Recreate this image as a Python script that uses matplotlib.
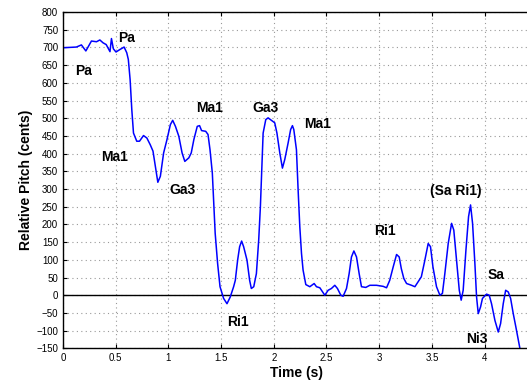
import matplotlib
matplotlib.use("Agg")
import matplotlib.pyplot as plt

# pitch contour (time in s, pitch in cents)
time_s = [0.0, 0.127, 0.175, 0.217, 0.27, 0.318, 0.35, 0.38, 0.41, 0.446, 0.46, 0.478,
          0.503, 0.54, 0.58, 0.605, 0.62, 0.637, 0.653, 0.669, 0.70, 0.726, 0.764, 0.796,
          0.828, 0.854, 0.876, 0.90, 0.924, 0.955, 0.987, 1.019, 1.041, 1.067, 1.099, 1.13,
          1.156, 1.194, 1.217, 1.242, 1.274, 1.296, 1.315, 1.354, 1.376, 1.395, 1.417,
          1.444, 1.467, 1.49, 1.524, 1.556, 1.587, 1.619, 1.635, 1.657, 1.676, 1.695,
          1.714, 1.746, 1.771, 1.787, 1.81, 1.835, 1.857, 1.873, 1.899, 1.924, 1.946,
          1.978, 2.009, 2.03, 2.057, 2.082, 2.104, 2.136, 2.16, 2.177, 2.19, 2.215, 2.231,
          2.247, 2.263, 2.278, 2.304, 2.342, 2.383, 2.405, 2.437, 2.453, 2.484, 2.516,
          2.547, 2.579, 2.604, 2.636, 2.658, 2.69, 2.715, 2.737, 2.76, 2.785, 2.81, 2.832,
          2.873, 2.911, 2.975, 3.038, 3.07, 3.1, 3.133, 3.165, 3.19, 3.21, 3.234, 3.26,
          3.307, 3.339, 3.37, 3.4, 3.43, 3.465, 3.487, 3.51, 3.544, 3.576, 3.6, 3.623,
          3.655, 3.687, 3.708, 3.734, 3.76, 3.778, 3.797, 3.823, 3.848, 3.867, 3.886,
          3.908, 3.924, 3.94, 3.962, 3.98, 4.019, 4.044, 4.066, 4.098, 4.13, 4.152, 4.177,
          4.2, 4.225, 4.247, 4.272, 4.297, 4.32, 4.335]
pitch = [699, 701, 707, 690, 718, 716, 721, 713, 708, 688, 725, 696,
         687, 694, 701, 685, 666, 609, 524, 458, 435, 435, 451, 444,
         425, 407, 364, 319, 336, 402, 440, 482, 494, 477, 449, 402,
         378, 388, 402, 440, 477, 479, 465, 463, 454, 411, 345,
         175, 90, 24, -9, -24, -5, 24, 42, 99, 137, 153,
         137, 99, 42, 19, 24, 61, 156, 250, 458, 496, 501,
         494, 487, 458, 402, 359, 383, 430, 468, 479, 468, 411, 297,
         193, 118, 71, 30, 24, 33, 24, 21, 14, 0, 14,
         19, 28, 19, 0, -3, 19, 61, 108, 125, 108, 61, 24,
         22, 28, 28, 25, 21, 42, 80, 115, 108, 75, 47, 33,
         28, 24, 38, 52, 94, 146, 137, 80, 24, 0, 5, 61,
         146, 203, 184, 99, 14, -14, 14, 127, 222, 255, 203,
         90, -5, -52, -33, -9, 3, 0, -24, -71, -104, -80, -24,
         14, 9, -9, -52, -90, -127, -150]

# svara labels
labels = ["Pa", "Pa", "Ma1", "Ga3", "Ma1", "Ga3", "Ma1", "Ri1", "Ri1", "(Sa Ri1)", "Sa", "Ni3"]
label_x = [0.2, 0.607, 0.49, 1.13, 1.39, 1.92, 2.42, 1.66, 3.05, 3.73, 4.11, 3.93]
label_y = [633, 727, 390, 297, 529, 529, 483, -76, 181, 294, 56, -125]

xticks = [0, 0.5, 1, 1.5, 2, 2.5, 3, 3.5, 4]
xtick_labels = ["0", "0.5", "1", "1.5", "2", "2.5", "3", "3.5", "4"]
yticks = list(range(-150, 801, 50))

plt.rcParams['font.family'] = ['Liberation Sans', 'DejaVu Sans']

fig = plt.figure(figsize=(5.27, 3.81), dpi=100)
ax = fig.add_axes([0.1195, 0.0858, 0.888, 0.8827])

ax.axhline(0, color='black', linewidth=1.0)
ax.plot(time_s, pitch, color='#0000ff', linewidth=1.1)

for txt, x, y in zip(labels, label_x, label_y):
    ax.text(x, y, txt, fontsize=10, fontweight='bold', ha='center', va='center')

ax.set_xlim(0, 4.44)
ax.set_ylim(-150, 800)
ax.set_xticks(xticks)
ax.set_xticklabels(xtick_labels)
ax.set_yticks(yticks)
ax.tick_params(direction='in', top=True, right=True, labelsize=7, length=3)
ax.grid(True, linestyle=(0, (1, 3)), color='#999999', linewidth=0.8)
for s in ax.spines.values():
    s.set_linewidth(1.0)

ax.set_xlabel('Time (s)', fontsize=10, fontweight='bold', labelpad=2)
ax.set_ylabel('Relative Pitch (cents)', fontsize=10, fontweight='bold', labelpad=2)

fig.savefig('out.png', dpi=100)
